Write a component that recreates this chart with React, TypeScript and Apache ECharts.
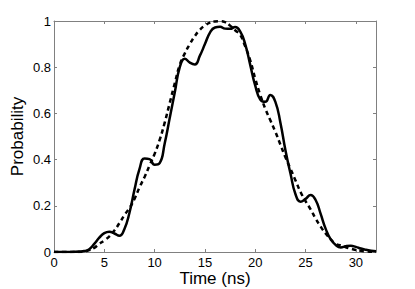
import React, { useEffect, useRef } from "react";
import * as echarts from "echarts";

const timeNs = [0, 1, 2, 2.5, 3, 3.5, 4, 4.5, 5, 5.5, 6, 6.5, 7, 7.5, 8, 8.5, 9, 9.5, 10, 10.5, 11, 11.5, 12, 12.5, 13, 13.5, 14, 14.5, 15, 15.5, 16, 16.5, 17, 17.5, 18, 18.5, 19, 19.5, 20, 20.5, 21, 21.5, 22, 22.5, 23, 23.5, 24, 24.5, 25, 25.5, 26, 26.5, 27, 27.5, 28, 28.5, 29, 29.5, 30, 30.5, 31, 31.5, 32];

const solidProb = [0, 0, 0.001, 0.002, 0.004, 0.012, 0.035, 0.062, 0.082, 0.088, 0.08, 0.07, 0.1, 0.17, 0.27, 0.36, 0.405, 0.402, 0.378, 0.385, 0.47, 0.58, 0.69, 0.8, 0.837, 0.82, 0.812, 0.85, 0.9, 0.95, 0.972, 0.975, 0.967, 0.966, 0.974, 0.955, 0.9, 0.81, 0.72, 0.66, 0.65, 0.68, 0.65, 0.56, 0.44, 0.34, 0.25, 0.218, 0.23, 0.247, 0.225, 0.165, 0.1, 0.055, 0.03, 0.02, 0.025, 0.027, 0.022, 0.015, 0.01, 0.006, 0.003];

const dashedProb = [0, 0, 0, 0, 0.002, 0.008, 0.018, 0.035, 0.05, 0.068, 0.093, 0.125, 0.16, 0.19, 0.23, 0.28, 0.325, 0.375, 0.425, 0.485, 0.56, 0.645, 0.73, 0.81, 0.86, 0.9, 0.935, 0.962, 0.98, 0.993, 0.998, 0.999, 0.995, 0.98, 0.96, 0.94, 0.89, 0.83, 0.75, 0.68, 0.62, 0.57, 0.52, 0.465, 0.41, 0.36, 0.31, 0.26, 0.22, 0.185, 0.145, 0.11, 0.08, 0.055, 0.035, 0.028, 0.02, 0.014, 0.009, 0.005, 0.003, 0.001, 0];

const xTicks = [0, 5, 10, 15, 20, 25, 30];

const FONT = "Liberation Sans, Arial, Helvetica, sans-serif";
const AXIS_GRAY = "#808080";

export default function App() {
  const ref = useRef<HTMLDivElement>(null);
  useEffect(() => {
    document.body.style.margin = "0";
    if (!ref.current) return;
    const chart = echarts.init(ref.current, null, { renderer: "svg" });
    const solidData = timeNs.map((t, i) => [t, solidProb[i]]);
    const dashedData = timeNs.map((t, i) => [t, dashedProb[i]]);
    const frameAxis = {
      axisLine: { show: true, onZero: false, lineStyle: { color: AXIS_GRAY, width: 1 } },
      axisTick: { show: true, inside: true, length: 3, lineStyle: { color: AXIS_GRAY } },
      splitLine: { show: false },
    };
    chart.setOption({
      animation: false,
      backgroundColor: "#ffffff",
      grid: {
        left: 54,
        right: 39,
        top: 21,
        bottom: 37,
        containLabel: false,
        outerBoundsMode: "none",
      },
      xAxis: [
        {
          type: "value",
          min: 0,
          max: 32,
          interval: 5,
          position: "bottom",
          ...frameAxis,
          axisLabel: {
            color: "#000",
            fontFamily: FONT,
            fontSize: 13,
            margin: 4,
            formatter: (v: number) => (xTicks.includes(v) ? String(v) : ""),
          },
          name: "Time (ns)",
          nameLocation: "middle",
          nameGap: 18,
          nameMoveOverlap: false,
          nameTextStyle: { color: "#000", fontFamily: FONT, fontSize: 17, lineHeight: 17 },
        },
        {
          type: "value",
          min: 0,
          max: 32,
          interval: 5,
          position: "top",
          ...frameAxis,
          axisLabel: { show: false },
        },
      ],
      yAxis: [
        {
          type: "value",
          min: 0,
          max: 1,
          interval: 0.2,
          position: "left",
          ...frameAxis,
          axisLabel: { color: "#000", fontFamily: FONT, fontSize: 13, margin: 3 },
          name: "Probability",
          nameLocation: "middle",
          nameGap: 28,
          nameMoveOverlap: false,
          nameTextStyle: { color: "#000", fontFamily: FONT, fontSize: 17, lineHeight: 17 },
        },
        {
          type: "value",
          min: 0,
          max: 1,
          interval: 0.2,
          position: "right",
          ...frameAxis,
          axisLabel: { show: false },
        },
      ],
      series: [
        {
          type: "line",
          data: dashedData,
          smooth: true,
          showSymbol: false,
          lineStyle: { color: "#000", width: 2.5, type: [4.5, 3.5] },
          z: 2,
        },
        {
          type: "line",
          data: solidData,
          smooth: true,
          showSymbol: false,
          lineStyle: { color: "#000", width: 2.5 },
          z: 3,
        },
      ],
    });
    return () => chart.dispose();
  }, []);
  return (
    <div
      ref={ref}
      style={{ position: "absolute", left: 0, top: 0, width: 415, height: 289 }}
    />
  );
}
